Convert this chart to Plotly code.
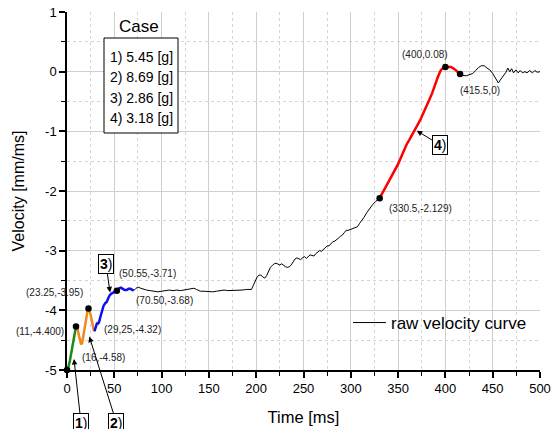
import plotly.graph_objects as go

# ---------------- data ----------------
raw_t = [0, 1.5, 3, 5, 7, 8.5, 9.5, 11, 12.5, 14, 15, 16, 17.5, 19, 20.5, 22, 22.7, 23.5, 25, 26.5, 28, 29.1,
         30.5, 31.6, 33, 34, 35.5, 37, 38.5, 40.4, 42, 43.5, 45, 47, 49, 51, 52.7, 55, 57, 59, 61, 63, 65, 67, 69, 70.5,
         73, 75, 78, 81, 84, 88, 92, 96, 100, 104, 108, 112, 116, 120, 124, 128, 131, 134, 137, 141, 145, 150,
         154, 158, 162, 166, 170, 175, 180, 185, 190, 195, 197, 199, 201, 203, 205, 207, 209, 211, 213, 215,
         217, 219, 221, 223, 225, 227, 229, 231, 233, 235, 237, 239, 241, 243, 245, 247, 249, 251, 253, 255,
         257, 259, 261, 263, 265, 267, 269, 271, 273, 275, 277, 279, 281, 283, 285, 287, 289, 291, 293, 295,
         297, 299, 301, 303, 305, 307, 309, 311, 314, 317, 320, 323, 326, 328, 330.5,
         334, 338, 342, 346, 350, 353, 356, 359, 362, 365, 368, 371, 374, 377, 380, 383, 386, 389, 392, 395,
         398, 400, 403, 406, 409, 412, 415.5,
         418, 422, 426, 429, 432, 435, 438, 441, 444, 447, 450, 452, 454, 456, 458, 461, 464, 466, 468, 470,
         472, 474.5, 477, 479, 481.5, 484, 486.5, 489, 492, 494.5, 497, 500]
raw_v = [-5.00, -4.95, -4.85, -4.65, -4.45, -4.32, -4.27, -4.30, -4.42, -4.54, -4.57, -4.55, -4.40, -4.20, -4.05, -3.98, -3.97, -3.99, -4.08, -4.22, -4.31, -4.35,
         -4.28, -4.22, -4.22, -4.19, -4.10, -4.00, -3.93, -3.88, -3.86, -3.80, -3.75, -3.72, -3.70, -3.68, -3.67, -3.63, -3.62, -3.64, -3.66, -3.66, -3.64, -3.64, -3.66, -3.67,
         -3.63, -3.61, -3.63, -3.65, -3.66, -3.67, -3.68, -3.69, -3.68, -3.67, -3.66, -3.67, -3.66, -3.67, -3.66, -3.65, -3.64, -3.63, -3.65, -3.68, -3.68, -3.69,
         -3.69, -3.68, -3.67, -3.66, -3.67, -3.67, -3.66, -3.66, -3.65, -3.65, -3.58, -3.50, -3.44, -3.41, -3.41, -3.44, -3.46, -3.42, -3.34, -3.28,
         -3.25, -3.22, -3.21, -3.22, -3.24, -3.22, -3.25, -3.27, -3.28, -3.27, -3.24, -3.19, -3.14, -3.12, -3.14, -3.15, -3.12, -3.10, -3.13, -3.10,
         -3.07, -3.08, -3.09, -3.05, -3.02, -3.00, -3.01, -2.98, -2.94, -2.92, -2.92, -2.88, -2.85, -2.84, -2.82, -2.79, -2.76, -2.74, -2.70, -2.66,
         -2.66, -2.65, -2.63, -2.62, -2.61, -2.60, -2.55, -2.51, -2.44, -2.36, -2.29, -2.23, -2.18, -2.15, -2.12,
         -2.02, -1.90, -1.78, -1.66, -1.55, -1.44, -1.32, -1.22, -1.14, -1.06, -0.96, -0.88, -0.79, -0.69, -0.58, -0.47, -0.36, -0.22, -0.09, 0.02,
         0.07, 0.08, 0.08, 0.08, 0.05, 0.01, -0.04,
         -0.06, -0.07, -0.05, -0.03, 0.02, 0.07, 0.10, 0.10, 0.06, 0.03, -0.03, -0.08, -0.14, -0.19, -0.14, -0.08, -0.01, 0.06, 0.00, 0.05,
         -0.02, 0.03, -0.02, 0.02, -0.02, 0.00, -0.02, 0.02, -0.02, 0.02, -0.01, 0.00]

# case segments (start time, end time) and colours
case_names = ["1", "2", "3", "4"]
case_mass = ["5.45", "8.69", "2.86", "3.18"]
case_start = [0, 9.5, 29.1, 330.5]
case_end = [9.5, 29.1, 70.5, 415.5]
case_colors = ["#1a8c1a", "#f08a1c", "#1010ee", "#ff0000"]

# marked points
mark_t = [0, 9.5, 22.7, 52.7, 330.5, 400, 415.5]
mark_v = [-5.0, -4.27, -3.97, -3.67, -2.12, 0.08, -0.04]

# point labels (text, pixel x, pixel y)
lbl_text = ["(11,-4.400)", "(16,-4.58)", "(23.25,-3.95)", "(29,25,-4.32)", "(50.55,-3.71)",
            "(70.50,-3.68)", "(400,0.08)", "(415.5,0)", "(330.5,-2.129)"]
lbl_px = [40, 103, 54, 132, 147, 164, 425, 480, 420]
lbl_py = [331, 357, 292, 329, 273, 300, 54, 90, 208]

# arrow annotations: head (data) + tail offset (px)
arr_t = [7.4, 23.6, 45.5, 369.7]
arr_v = [-4.815, -4.44, -3.70, -0.99]
arr_ax = [7, 27, -4, 23]
arr_ay = [64, 86, -28, 14]

x_ticks = [0, 50, 100, 150, 200, 250, 300, 350, 400, 450, 500]
x_ticktext = [str(v) for v in x_ticks]
y_ticks = [-5, -4, -3, -2, -1, 0, 1]
y_ticktext = ["-5", "-4", "-3", "-2", "-1", "0", "1"]

# ---------------- figure ----------------
W, H = 551, 429
L, R, T, B = 67, 11, 12, 59
pw, ph = W - L - R, H - T - B
FONT = "Arial, Liberation Sans, sans-serif"

def px2paper(px, py):
    return (px - L) / pw, (H - B - py) / ph

fig = go.Figure()
fig.add_trace(go.Scatter(x=raw_t, y=raw_v, mode="lines", name="raw velocity curve",
                         line=dict(color="black", width=1), showlegend=True))
for s, e, c in zip(case_start, case_end, case_colors):
    seg_t = [t for t in raw_t if s <= t <= e]
    seg_v = [v for t, v in zip(raw_t, raw_v) if s <= t <= e]
    fig.add_trace(go.Scatter(x=seg_t, y=seg_v, mode="lines", line=dict(color=c, width=2.5),
                             showlegend=False, cliponaxis=False))
fig.add_trace(go.Scatter(x=mark_t, y=mark_v, mode="markers", marker=dict(color="black", size=6.5),
                         showlegend=False, cliponaxis=False))

ann = []
for txt, px, py in zip(lbl_text, lbl_px, lbl_py):
    xp, yp = px2paper(px, py)
    ann.append(dict(text=txt, x=xp, y=yp, xref="paper", yref="paper", showarrow=False,
                    xanchor="center", yanchor="middle", font=dict(size=10, color="#222", family=FONT)))
for n, t, v, ax, ay in zip(case_names, arr_t, arr_v, arr_ax, arr_ay):
    ann.append(dict(text="<b>%s</b>)" % n, x=t, y=v, xref="x", yref="y", showarrow=True,
                    ax=ax, ay=ay, arrowhead=2, arrowsize=1.1, arrowwidth=1, arrowcolor="black",
                    bordercolor="black", borderwidth=1, borderpad=1, bgcolor="white",
                    font=dict(size=14, color="black", family=FONT)))
# case box
xp, yp = px2paper(139, 26)
ann.append(dict(text="Case", x=xp, y=yp, xref="paper", yref="paper", showarrow=False,
                xanchor="center", yanchor="middle", font=dict(size=17, color="black", family=FONT)))
for i, (n, m) in enumerate(zip(case_names, case_mass)):
    xp, yp = px2paper(141.5, 57 + 20.4 * i)
    ann.append(dict(text="%s) %s [g]" % (n, m), x=xp, y=yp, xref="paper", yref="paper", showarrow=False,
                    xanchor="center", yanchor="middle", font=dict(size=14, color="black", family=FONT)))
bx0, by0 = px2paper(104, 133)
bx1, by1 = px2paper(178, 38)
shapes = [dict(type="rect", xref="paper", yref="paper", x0=bx0, y0=by0, x1=bx1, y1=by1,
               line=dict(color="black", width=1), fillcolor="white", layer="above")]

lx, ly = px2paper(348, 323)

fig.update_layout(
    width=W, height=H, margin=dict(l=L, r=R, t=T, b=B, autoexpand=False),
    paper_bgcolor="white", plot_bgcolor="white",
    font=dict(family=FONT, color="black"),
    annotations=ann, shapes=shapes,
    legend=dict(x=lx, y=ly, xanchor="left", yanchor="middle", bgcolor="rgba(0,0,0,0)",
                font=dict(size=17, family=FONT), itemwidth=33),
    xaxis=dict(range=[0, 500], tickmode="array", tickvals=x_ticks, ticktext=x_ticktext,
               automargin=False,
               showline=True, linecolor="black", linewidth=1.5, ticks="outside", ticklen=6,
               tickwidth=1.5, tickcolor="black", tickfont=dict(size=13, family=FONT),
               showgrid=True, gridcolor="#cfcfcf", gridwidth=1, zeroline=False,
               minor=dict(dtick=25, tick0=0, ticks="outside", ticklen=4, tickwidth=1, tickcolor="black",
                          showgrid=True, gridcolor="#d4d4d4", griddash="dot", gridwidth=1),
               title=dict(text="Time [ms]", font=dict(size=16.5, family=FONT), standoff=16)),
    yaxis=dict(range=[-5, 1], tickmode="array", tickvals=y_ticks, ticktext=y_ticktext,
               automargin=False,
               showline=True, linecolor="black", linewidth=1.5, ticks="outside", ticklen=6,
               tickwidth=1.5, tickcolor="black", tickfont=dict(size=13, family=FONT),
               showgrid=True, gridcolor="#cfcfcf", gridwidth=1, zeroline=False,
               minor=dict(dtick=0.5, tick0=0, ticks="outside", ticklen=4, tickwidth=1, tickcolor="black",
                          showgrid=True, gridcolor="#d4d4d4", griddash="dot", gridwidth=1),
               title=dict(text="Velocity [mm/ms]", font=dict(size=16, family=FONT), standoff=16)),
)

fig.write_html("out.html")
